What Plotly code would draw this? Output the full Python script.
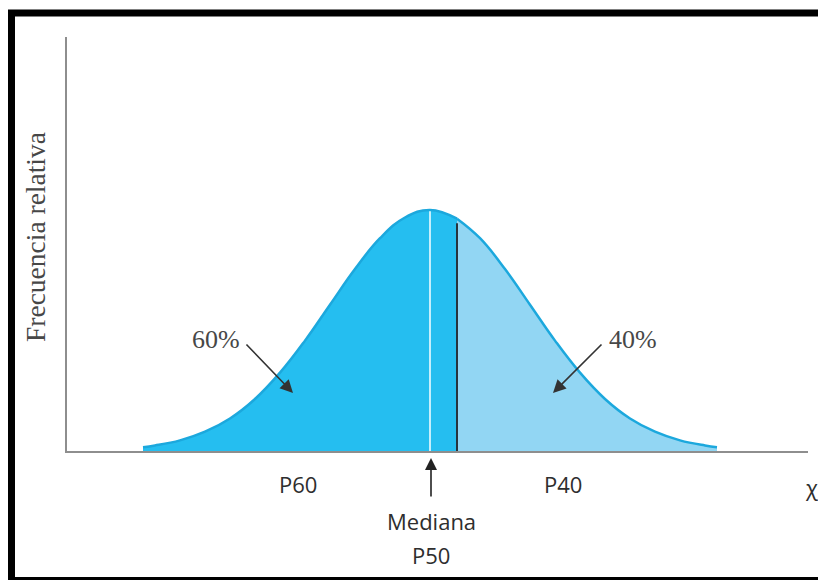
import plotly.graph_objects as go

# Curve (x in standard deviations from the median, y relative to the peak)
left_x = [-2.87, -2.75, -2.5, -2.25, -2.0, -1.75, -1.5, -1.25, -1.0, -0.75, -0.5, -0.25, 0.0, 0.27]
left_y = [0.016, 0.023, 0.044, 0.080, 0.135, 0.216, 0.325, 0.458, 0.607, 0.755, 0.883, 0.969, 1.0, 0.964]
right_x = [0.27, 0.5, 0.75, 1.0, 1.25, 1.5, 1.75, 2.0, 2.25, 2.5, 2.75, 2.87]
right_y = [0.964, 0.883, 0.755, 0.607, 0.458, 0.325, 0.216, 0.135, 0.080, 0.044, 0.023, 0.016]
median_x = 0.0
median_y = 0.995
p60_x = 0.27
p60_y = 0.945

share_labels = ["60%", "40%"]
axis_labels = ["P60", "P40"]
median_labels = ["Mediana", "P50"]
x_title = "χ"
y_title = "Frecuencia relativa"

LEFT_FILL = "#25BEF0"
RIGHT_FILL = "#92D6F3"
OUTLINE = "#1CA8DD"
SERIF = "Liberation Serif"
SANS = "Open Sans"

# pixel -> paper helpers for the layout (plot area 67..808 x, 37..451 y)
def px(xp):
    return (xp - 67) / 741

def py(yp):
    return (451 - yp) / 414

fig = go.Figure()
fig.add_trace(go.Scatter(x=left_x, y=left_y, mode="lines",
                         line=dict(color=OUTLINE, width=2.5, shape="spline", smoothing=1.2),
                         fill="tozeroy", fillcolor=LEFT_FILL, hoverinfo="skip", showlegend=False))
fig.add_trace(go.Scatter(x=right_x, y=right_y, mode="lines",
                         line=dict(color=OUTLINE, width=2.5, shape="spline", smoothing=1.2),
                         fill="tozeroy", fillcolor=RIGHT_FILL, hoverinfo="skip", showlegend=False))
fig.add_trace(go.Scatter(x=[median_x, median_x], y=[0, median_y], mode="lines",
                         line=dict(color="#D9F4FD", width=1.8), hoverinfo="skip", showlegend=False))
fig.add_trace(go.Scatter(x=[p60_x, p60_x], y=[0, p60_y], mode="lines",
                         line=dict(color="#27343D", width=2), hoverinfo="skip", showlegend=False))

serif_font = dict(family=SERIF, size=26, color="#474747")
sans_font = dict(family=SANS, size=22, color="#2E2E2E")

def label(xp, yp, text, font, **kw):
    d = dict(xref="paper", yref="paper", x=px(xp), y=py(yp), text=text, showarrow=False,
             font=font, xanchor="center", yanchor="middle")
    d.update(kw)
    return d

ann = [
    dict(xref="x", yref="y", x=-2.14, y=0.461, text=share_labels[0], showarrow=False, font=serif_font,
         xanchor="center", yanchor="middle"),
    dict(xref="x", yref="y", x=2.03, y=0.461, text=share_labels[1], showarrow=False, font=serif_font,
         xanchor="center", yanchor="middle"),
    dict(xref="x", yref="y", x=-1.37, y=0.241, ax=-1.85, ay=0.448, axref="x", ayref="y", text="",
         showarrow=True, arrowhead=2, arrowsize=1.6, arrowwidth=1.6, arrowcolor="#333333"),
    dict(xref="x", yref="y", x=1.23, y=0.241, ax=1.73, ay=0.448, axref="x", ayref="y", text="",
         showarrow=True, arrowhead=2, arrowsize=1.6, arrowwidth=1.6, arrowcolor="#333333"),
    dict(xref="paper", yref="paper", x=px(431), y=py(458), ax=0, ay=40, text="",
         showarrow=True, arrowhead=2, arrowsize=1.5, arrowwidth=1.6, arrowcolor="#222222"),
    label(298, 484, axis_labels[0], sans_font),
    label(563, 484, axis_labels[1], sans_font),
    label(431, 521, median_labels[0], sans_font),
    label(431, 555, median_labels[1], sans_font),
    label(803, 487, x_title, dict(family=SANS, size=22, color="#2E2E2E"), xanchor="left"),
    label(35, 237, y_title, dict(family=SERIF, size=27.5, color="#474747"), textangle=-90),
]

fig.update_layout(
    width=818, height=580,
    margin=dict(l=67, r=10, t=37, b=129),
    paper_bgcolor="white", plot_bgcolor="white",
    xaxis=dict(range=[-3.63, 3.78], showgrid=False, zeroline=False, showticklabels=False, ticks="",
               showline=True, linecolor="#8E8E8E", linewidth=2, fixedrange=True),
    yaxis=dict(range=[0, 1.718], showgrid=False, zeroline=False, showticklabels=False, ticks="",
               showline=True, linecolor="#8E8E8E", linewidth=2, fixedrange=True),
    annotations=ann,
    shapes=[dict(type="rect", xref="paper", yref="paper",
                 x0=px(11.5), x1=px(826), y0=py(580.5), y1=py(13),
                 line=dict(color="black", width=7), fillcolor="rgba(0,0,0,0)", layer="above")],
)

fig.write_html("out.html", config={"displayModeBar": False},
               post_script="document.body.style.margin='0';")
